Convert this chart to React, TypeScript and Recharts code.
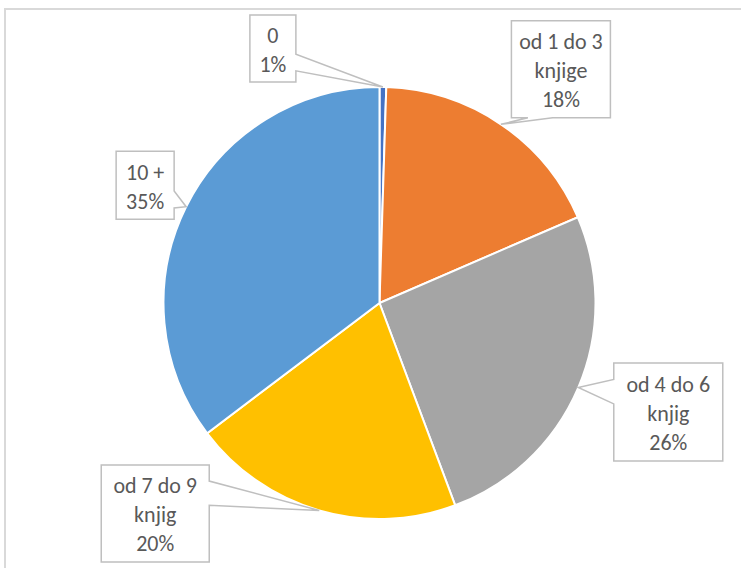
import { PieChart, Pie, Cell } from "recharts";

const categories = ["0", "od 1 do 3\nknjige", "od 4 do 6\nknjig", "od 7 do 9\nknjig", "10 +"];
const shares = [0.5, 18.0, 25.8, 20.4, 35.3];
const colors = ["#4472C4", "#ED7D31", "#A5A5A5", "#FFC000", "#5B9BD5"];

const data = categories.map((name, i) => ({ name, value: shares[i] }));
const total = shares.reduce((a, b) => a + b, 0);

// Callout box placement relative to the slice tip (box centre offset + size + tail side).
type Side = "left" | "right" | "top" | "bottom";
const callouts: { dx: number; dy: number; w: number; h: number; side: Side }[] = [
  { dx: -110, dy: -38.5, w: 46, h: 67, side: "right" },
  { dx: 60, dy: -55, w: 99, h: 97, side: "bottom" },
  { dx: 90, dy: 24.5, w: 109, h: 98, side: "left" },
  { dx: -164, dy: 3, w: 108, h: 97, side: "right" },
  { dx: -41, dy: -21.5, w: 58, h: 68, side: "right" },
];

const RAD = Math.PI / 180;
const FONT = "Carlito, Lato, 'Liberation Sans', sans-serif";

/** Excel-style wedge rectangle callout outline. */
function wedgePath(l: number, t: number, w: number, h: number, tx: number, ty: number, side: Side) {
  const r = l + w;
  const b = t + h;
  const below = ty > t + h / 2;
  const rightOf = tx > l + w / 2;
  const y1 = t + (h * (below ? 7 : 2)) / 12;
  const y2 = t + (h * (below ? 10 : 5)) / 12;
  const x1 = l + (w * (rightOf ? 7 : 2)) / 12;
  const x2 = l + (w * (rightOf ? 10 : 5)) / 12;
  switch (side) {
    case "right":
      return `M${l},${t} H${r} V${y1} L${tx},${ty} L${r},${y2} V${b} H${l} Z`;
    case "left":
      return `M${l},${t} H${r} V${b} H${l} V${y2} L${tx},${ty} L${l},${y1} Z`;
    case "bottom":
      return `M${l},${t} H${r} V${b} H${x2} L${tx},${ty} L${x1},${b} H${l} Z`;
    default:
      return `M${l},${t} H${x1} L${tx},${ty} L${x2},${t} H${r} V${b} H${l} Z`;
  }
}

type LabelProps = {
  cx: number;
  cy: number;
  midAngle: number;
  outerRadius: number;
  index: number;
};

function renderCallout({ cx, cy, midAngle, outerRadius, index }: LabelProps) {
  const tx = cx + outerRadius * Math.cos(-midAngle * RAD);
  const ty = cy + outerRadius * Math.sin(-midAngle * RAD);
  const c = callouts[index];
  const bx = tx + c.dx;
  const by = ty + c.dy;
  const pct = Math.round(Math.round((shares[index] / total) * 1000) / 10);
  const lines = [...categories[index].split("\n"), `${pct}%`];
  const step = 29;
  return (
    <g key={`callout-${index}`}>
      <path
        d={wedgePath(bx - c.w / 2, by - c.h / 2, c.w, c.h, tx, ty, c.side)}
        fill="#ffffff"
        stroke="#bfbfbf"
        strokeWidth={1.5}
        strokeLinejoin="miter"
      />
      {lines.map((ln, i) => (
        <text
          key={i}
          x={bx}
          y={by + 1.5 + (i - (lines.length - 1) / 2) * step}
          textAnchor="middle"
          dominantBaseline="central"
          fill="#595959"
          fontSize={22}
          fontFamily={FONT}
        >
          {ln}
        </text>
      ))}
    </g>
  );
}

export default function App() {
  return (
    <div
      style={{
        position: "fixed",
        left: 0,
        top: 0,
        width: 741,
        height: 568,
        overflow: "hidden",
        background: "#ffffff",
      }}
    >
      <div
        style={{
          position: "absolute",
          left: 4,
          top: 8,
          width: 800,
          height: 620,
          border: "2px solid #d9d9d9",
        }}
      />
      <div style={{ position: "absolute", left: 0, top: 0 }}>
        <PieChart width={741} height={568} margin={{ top: 0, right: 0, bottom: 0, left: 0 }}>
          <Pie
            data={data}
            dataKey="value"
            nameKey="name"
            cx={379.5}
            cy={303}
            outerRadius={216}
            startAngle={90}
            endAngle={-270}
            stroke="#ffffff"
            strokeWidth={2}
            label={renderCallout}
            labelLine={false}
            isAnimationActive={false}
          >
            {data.map((_, i) => (
              <Cell key={i} fill={colors[i]} />
            ))}
          </Pie>
        </PieChart>
      </div>
    </div>
  );
}
